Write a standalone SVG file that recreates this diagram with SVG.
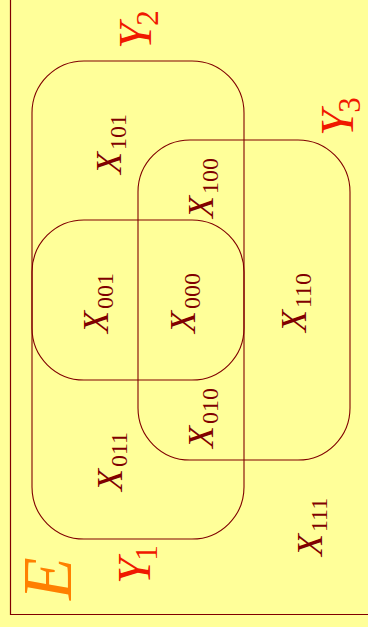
<svg xmlns="http://www.w3.org/2000/svg" width="368" height="627" viewBox="0 0 368 627">
<style>
.set{fill:none;stroke:#800000;stroke-width:1.1}
.frame{fill:none;stroke:#800000;stroke-width:1.2}
.x{font-family:"Liberation Serif",serif;font-size:36px;fill:#800000}
.x .v{font-style:italic}
.x .s{font-size:24px}
.y{font-family:"Liberation Serif",serif;font-size:47px;fill:#F01800}
.y .v{font-style:italic}
.y .s{font-size:31px}
.e{font-family:"Liberation Serif",serif;font-size:70px;font-style:italic;fill:#FF8000}
</style>
<rect width="368" height="627" fill="#FFFF99"/>
<g id="universe">
<path class="frame" d="M10.5,0 V614.5 H368"/>
<text class="e" transform="translate(71,600) rotate(-90)">E</text>
</g>
<g id="connectors"></g>
<g id="Y2">
<rect class="set" x="32" y="61" width="212" height="319" rx="52" ry="52"/>
<text class="y" transform="translate(151,49) rotate(-90)"><tspan class="v">Y</tspan><tspan class="s" dx="-3" dy="7">2</tspan></text>
</g>
<g id="Y1">
<rect class="set" x="32" y="220" width="212" height="319" rx="52" ry="52"/>
<text class="y" transform="translate(150,584) rotate(-90)"><tspan class="v">Y</tspan><tspan class="s" dx="-3" dy="7">1</tspan></text>
</g>
<g id="Y3">
<rect class="set" x="138" y="140" width="212" height="320" rx="52" ry="52"/>
<text class="y" transform="translate(353,136) rotate(-90)"><tspan class="v">Y</tspan><tspan class="s" dx="-3" dy="7">3</tspan></text>
</g>
<g id="X101"><text class="x" transform="translate(121,174) rotate(-90)"><tspan class="v">X</tspan><tspan class="s" dx="2" dy="5">101</tspan></text></g>
<g id="X100"><text class="x" transform="translate(213,218) rotate(-90)"><tspan class="v">X</tspan><tspan class="s" dx="2" dy="5">100</tspan></text></g>
<g id="X001"><text class="x" transform="translate(108,333) rotate(-90)"><tspan class="v">X</tspan><tspan class="s" dx="2" dy="5">001</tspan></text></g>
<g id="X000"><text class="x" transform="translate(195,333) rotate(-90)"><tspan class="v">X</tspan><tspan class="s" dx="2" dy="5">000</tspan></text></g>
<g id="X110"><text class="x" transform="translate(306,332) rotate(-90)"><tspan class="v">X</tspan><tspan class="s" dx="2" dy="5">110</tspan></text></g>
<g id="X010"><text class="x" transform="translate(213,448) rotate(-90)"><tspan class="v">X</tspan><tspan class="s" dx="2" dy="5">010</tspan></text></g>
<g id="X011"><text class="x" transform="translate(122,491) rotate(-90)"><tspan class="v">X</tspan><tspan class="s" dx="2" dy="5">011</tspan></text></g>
<g id="X111"><text class="x" transform="translate(322,556) rotate(-90)"><tspan class="v">X</tspan><tspan class="s" dx="2" dy="5">111</tspan></text></g>
</svg>
